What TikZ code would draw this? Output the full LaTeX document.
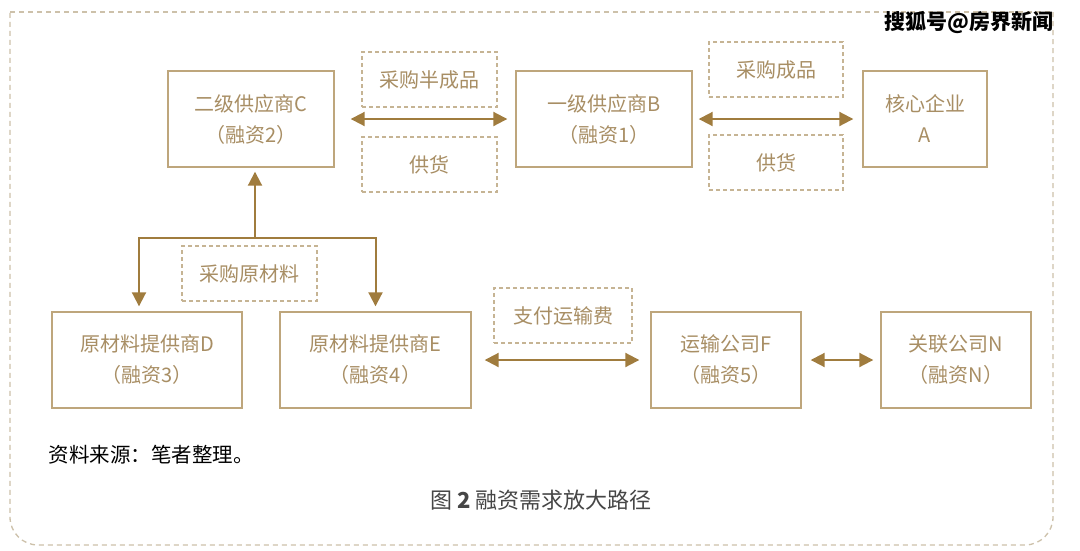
\documentclass[tikz,border=0pt]{standalone}
\usepackage{fontspec}
\setmainfont{Noto Sans CJK SC}
\usetikzlibrary{arrows.meta,positioning}
\definecolor{chainGold}{RGB}{160,124,62}
\definecolor{chainLine}{RGB}{190,166,124}
\definecolor{chainText}{RGB}{168,142,100}
\definecolor{chainDash}{RGB}{198,180,148}
\definecolor{frameGray}{RGB}{205,193,170}
\definecolor{captionGray}{RGB}{70,70,70}

\begin{document}
\begin{tikzpicture}[
  x=1pt,y=-1pt,
  company/.style={
    draw=chainLine,
    line width=1.4pt,
    minimum height=96pt,
    inner sep=0pt,
    align=center,
    text=chainText,
    font=\fontsize{20}{31}\selectfont
  },
  flowtag/.style={
    draw=chainDash,
    dash pattern=on 4pt off 3pt,
    line width=1.1pt,
    minimum width=135pt,
    minimum height=55pt,
    inner sep=0pt,
    text=chainText,
    font=\fontsize{20}{24}\selectfont
  },
  link/.style={{Triangle[length=14pt,width=14pt]}-{Triangle[length=14pt,width=14pt]},line width=2pt,chainGold},
  onelink/.style={-{Triangle[length=14pt,width=14pt]},line width=2pt,chainGold}
]
  \fill[white] (0,0) rectangle (1080,550);
  % outer frame
  \draw[frameGray,line width=1.3pt,dash pattern=on 5pt off 4pt,rounded corners=28pt]
    (1053,12) -- (1053,545) -- (10,545) -- (10,12);
  \draw[frameGray,line width=1.3pt,dash pattern=on 5pt off 4pt] (10,12) -- (1053,12);

  \node[company,minimum width=166pt] (supplierC) at (251,119)
    {二级供应商C\\（融资2）};
  \node[company,minimum width=176pt,right=180.6pt of supplierC] (supplierB)
    {一级供应商B\\（融资1）};
  \node[company,minimum width=124pt,right=169.6pt of supplierB] (coreA)
    {核心企业\\A};
  \node[company,minimum width=190pt] (rawD) at (147,360)
    {原材料提供商D\\（融资3）};
  \node[company,minimum width=191pt,right=36.6pt of rawD] (rawE)
    {原材料提供商E\\（融资4）};
  \node[company,minimum width=150pt,right=178.6pt of rawE] (transF)
    {运输公司F\\（融资5）};
  \node[company,minimum width=150pt,right=78.6pt of transF] (relatedN)
    {关联公司N\\（融资N）};

  \node[flowtag] (buyHalf) at (429.5,79.5) {采购半成品};
  \node[flowtag] (supplyL) at (429.5,164.5) {供货};
  \node[flowtag,minimum width=134pt] (buyDone) at (776,69.5) {采购成品};
  \node[flowtag,minimum width=134pt] (supplyR) at (776,162.5) {供货};
  \node[flowtag] (buyRaw) at (249.5,273.5) {采购原材料};
  \node[flowtag,minimum width=138pt] (payFreight) at (563,315.5) {支付运输费};

  \draw[link,shorten <=16pt,shorten >=8pt] (supplierC) -- (supplierB);
  \draw[link,shorten <=6pt,shorten >=9pt] (supplierB) -- (coreA);
  \draw[link,shorten <=13pt,shorten >=11pt] (rawE) -- (transF);
  \draw[link,shorten <=9pt,shorten >=7pt] (transF) -- (relatedN);

  \coordinate (fork) at (255,238);
  \draw[onelink,shorten >=4pt] (fork) -- (fork |- supplierC.south);
  \draw[onelink,shorten >=5pt] (fork) -| ([xshift=-8pt]rawD.north);
  \draw[onelink,shorten >=5pt] (fork) -| (rawE.north);

  \node[anchor=west,font=\fontsize{20.5}{22}\selectfont] (source) at (45,455)
    {资料来源：笔者整理。};
  \node[text=captionGray,font=\fontsize{22}{26}\selectfont] (caption) at (541,500)
    {图\ {\bfseries 2}\ 融资需求放大路径};
  \node[font=\fontsize{21}{21}\selectfont\bfseries] (mark) at (969,23)
    {搜狐号@房界新闻};
\end{tikzpicture}
\end{document}
